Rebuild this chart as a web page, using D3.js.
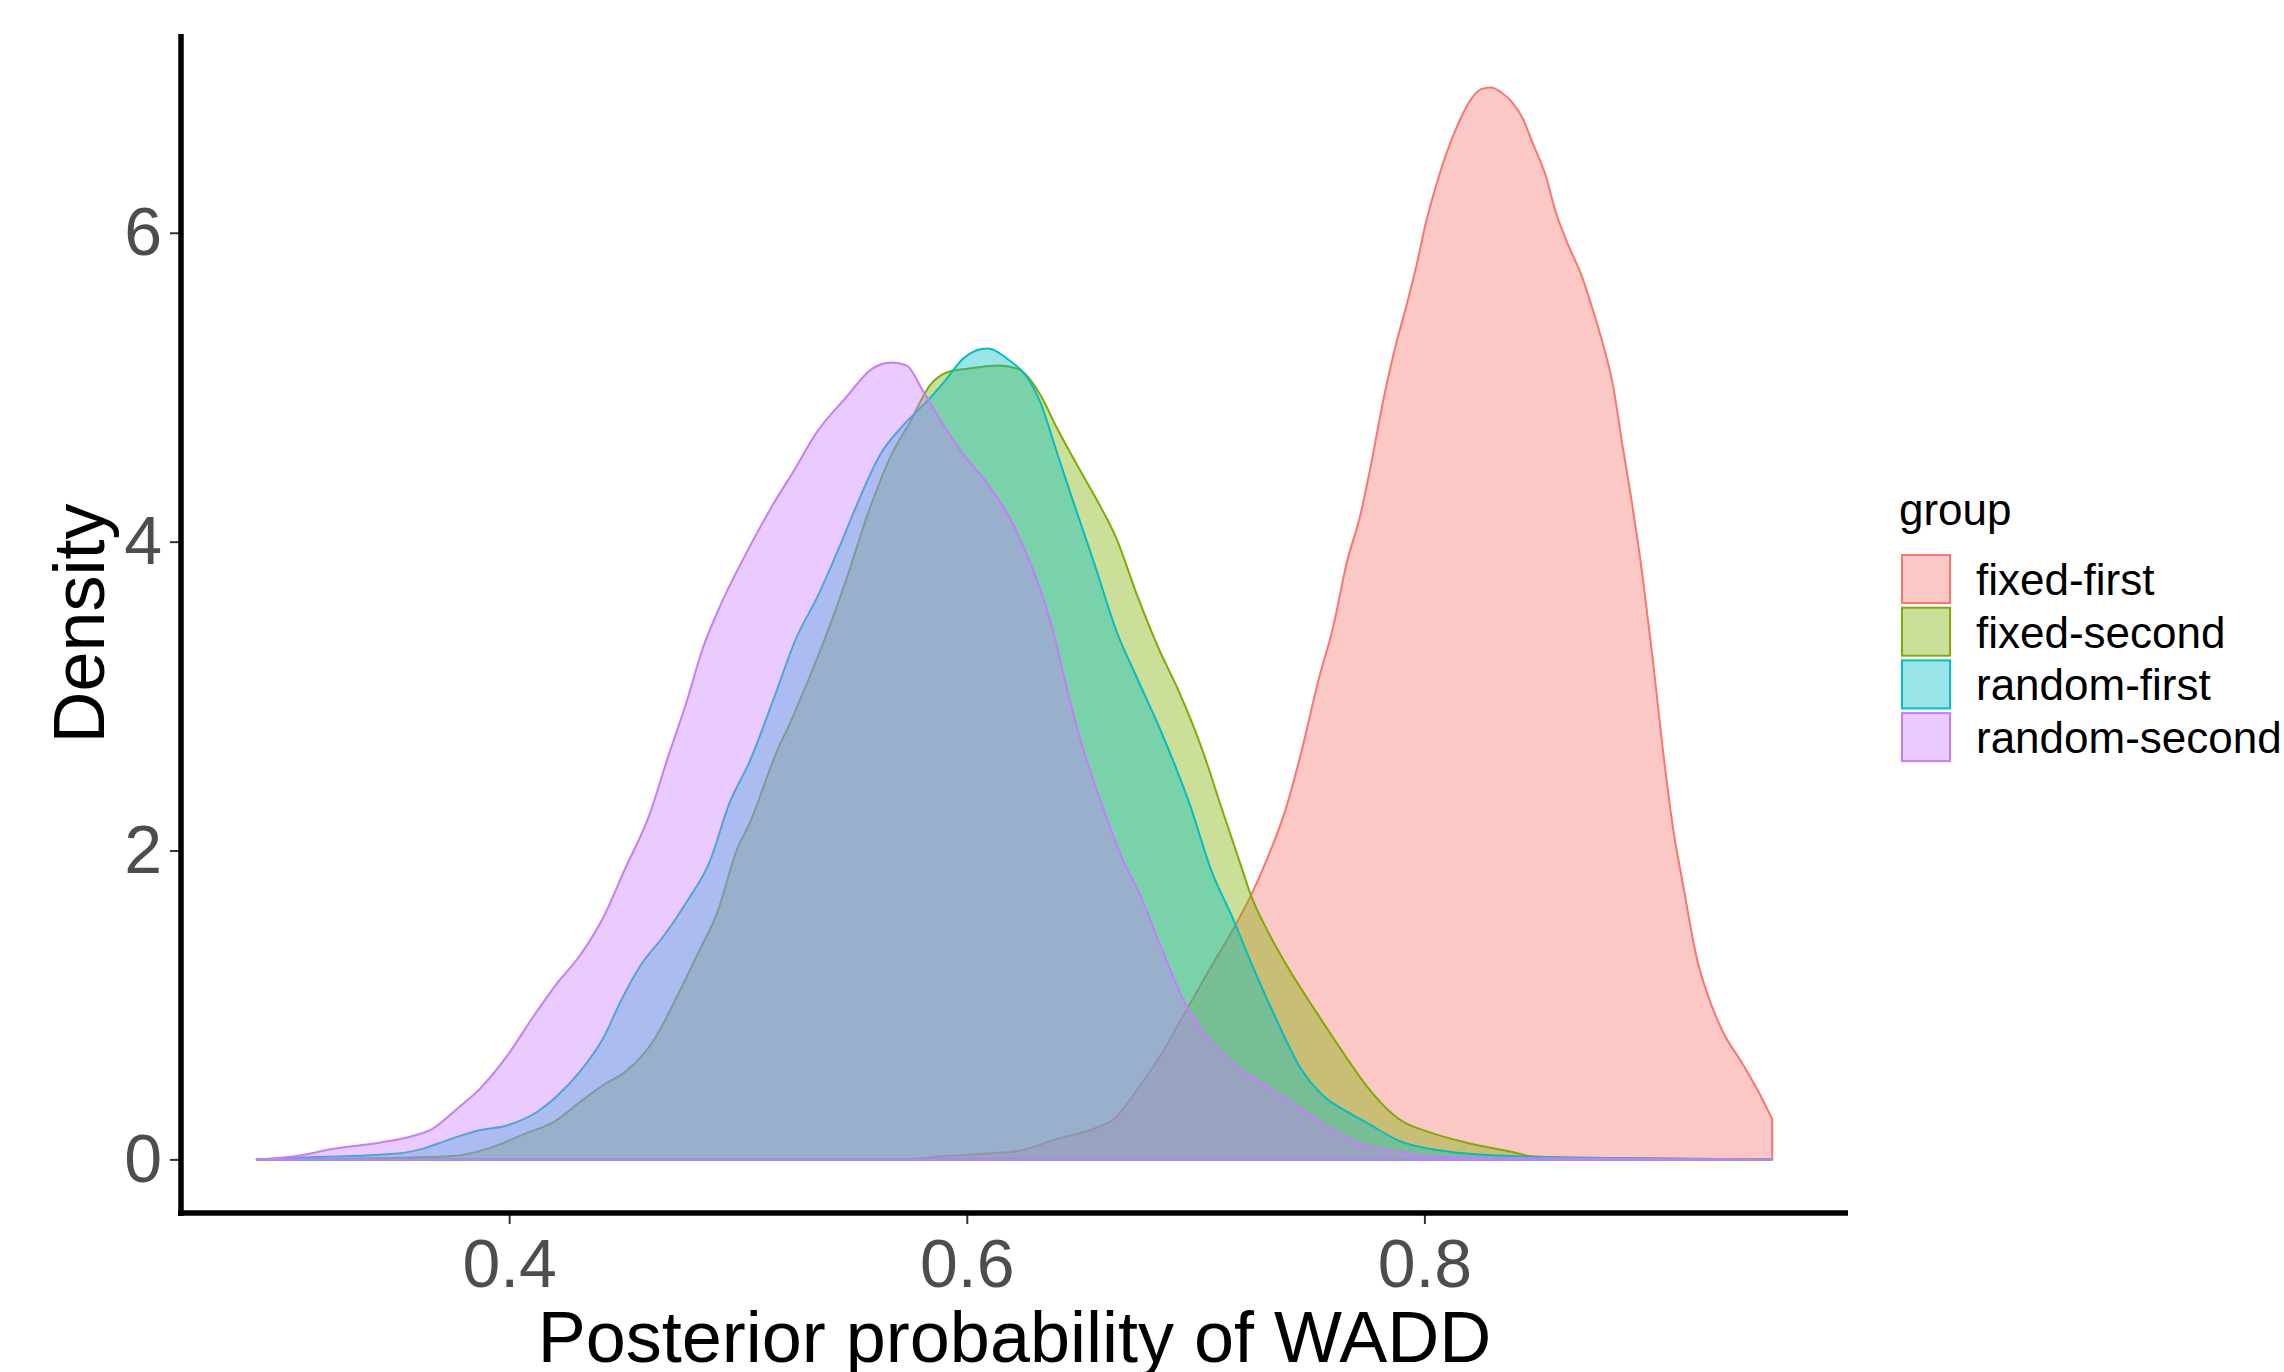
<!DOCTYPE html>
<html>
<head>
<meta charset="utf-8">
<script src="https://cdn.jsdelivr.net/npm/d3@7"></script>
<style>
  html, body { margin: 0; padding: 0; background: #ffffff; }
  svg { display: block; }
  text { font-family: "Liberation Sans", Arial, sans-serif; }
</style>
</head>
<body>
<svg id="chart" width="2284" height="1372"></svg>
<script>
// ---- Data ----
const groups = ["fixed-first", "fixed-second", "random-first", "random-second"];
const colors = ["#F8766D", "#7CAE00", "#00BFC4", "#C77CFF"];

const fixedFirstX = [0.2897, 0.572, 0.589, 0.611, 0.6223, 0.639, 0.6557, 0.6641, 0.6758, 0.6858, 0.6957, 0.7057, 0.7175, 0.7242, 0.7308, 0.7392, 0.7459, 0.754, 0.760, 0.766, 0.7723, 0.776, 0.7825, 0.7876, 0.792, 0.7964, 0.8007, 0.805, 0.8095, 0.8146, 0.8197, 0.8248, 0.829, 0.8335, 0.8386, 0.843, 0.8473, 0.853, 0.8575, 0.862, 0.869, 0.8736, 0.878, 0.8823, 0.8866, 0.891, 0.8954, 0.8997, 0.904, 0.9085, 0.913, 0.9194, 0.9237, 0.9303, 0.939, 0.9463, 0.952];
const fixedFirstY = [0, 0, 0.02, 0.04, 0.055, 0.13, 0.20, 0.26, 0.48, 0.70, 0.96, 1.22, 1.52, 1.71, 1.93, 2.26, 2.62, 3.12, 3.44, 3.86, 4.19, 4.45, 4.95, 5.28, 5.52, 5.78, 6.07, 6.30, 6.51, 6.70, 6.85, 6.93, 6.94, 6.91, 6.84, 6.74, 6.58, 6.37, 6.13, 5.95, 5.71, 5.50, 5.28, 5.02, 4.62, 4.22, 3.77, 3.25, 2.68, 2.16, 1.78, 1.28, 1.07, 0.83, 0.62, 0.43, 0.26];

const fixedSecondX = [0.2897, 0.322, 0.374, 0.3908, 0.4075, 0.4192, 0.4326, 0.441, 0.451, 0.4627, 0.4742, 0.4827, 0.491, 0.4994, 0.5052, 0.5178, 0.522, 0.5278, 0.5353, 0.547, 0.557, 0.567, 0.5754, 0.5838, 0.5921, 0.6005, 0.6139, 0.6223, 0.6322, 0.6389, 0.6473, 0.6557, 0.6657, 0.674, 0.6841, 0.6924, 0.7025, 0.7108, 0.7192, 0.7242, 0.7325, 0.7425, 0.7525, 0.7673, 0.7745, 0.789, 0.8035, 0.818, 0.838, 0.847, 0.87, 0.91, 0.952];
const fixedSecondY = [0, 0.003, 0.02, 0.07, 0.17, 0.24, 0.39, 0.48, 0.57, 0.76, 1.08, 1.34, 1.60, 2.00, 2.18, 2.67, 2.80, 3.00, 3.27, 3.74, 4.19, 4.56, 4.78, 5.01, 5.10, 5.12, 5.14, 5.12, 4.95, 4.75, 4.52, 4.30, 4.01, 3.67, 3.30, 3.04, 2.67, 2.30, 1.93, 1.71, 1.45, 1.19, 0.96, 0.63, 0.48, 0.26, 0.17, 0.11, 0.05, 0.02, 0.01, 0.005, 0];

const randomFirstX = [0.2897, 0.307, 0.3524, 0.3624, 0.374, 0.3874, 0.399, 0.4125, 0.4209, 0.431, 0.4409, 0.4493, 0.4576, 0.4677, 0.4777, 0.4877, 0.4961, 0.5052, 0.5153, 0.5253, 0.5353, 0.5453, 0.5537, 0.562, 0.572, 0.582, 0.5904, 0.5988, 0.6088, 0.6189, 0.6256, 0.6322, 0.6389, 0.6456, 0.6557, 0.6657, 0.674, 0.6858, 0.6974, 0.7074, 0.7157, 0.7258, 0.7358, 0.7459, 0.7559, 0.7673, 0.7745, 0.789, 0.811, 0.84, 0.869, 0.952];
const randomFirstY = [0, 0.01, 0.04, 0.07, 0.13, 0.19, 0.22, 0.31, 0.41, 0.57, 0.78, 1.04, 1.26, 1.45, 1.67, 1.93, 2.30, 2.58, 2.97, 3.37, 3.66, 4.00, 4.30, 4.56, 4.75, 4.90, 5.04, 5.19, 5.25, 5.17, 5.08, 4.90, 4.60, 4.30, 3.86, 3.41, 3.13, 2.74, 2.30, 1.85, 1.58, 1.22, 0.89, 0.59, 0.41, 0.30, 0.24, 0.12, 0.05, 0.02, 0.01, 0];

const randomSecondX = [0.2897, 0.3064, 0.3239, 0.344, 0.3574, 0.3666, 0.3774, 0.3874, 0.3991, 0.4108, 0.4209, 0.4309, 0.4409, 0.4509, 0.461, 0.4693, 0.4777, 0.4844, 0.4927, 0.5027, 0.5153, 0.5253, 0.5336, 0.547, 0.5587, 0.567, 0.5738, 0.5803, 0.5888, 0.5988, 0.6088, 0.6189, 0.6289, 0.6372, 0.6439, 0.6506, 0.659, 0.6673, 0.6758, 0.6858, 0.6958, 0.7058, 0.7192, 0.7325, 0.7459, 0.7593, 0.7745, 0.789, 0.8035, 0.818, 0.952];
const randomSecondY = [0, 0.02, 0.07, 0.11, 0.15, 0.20, 0.33, 0.46, 0.67, 0.93, 1.14, 1.32, 1.56, 1.89, 2.22, 2.60, 2.97, 3.30, 3.60, 3.90, 4.24, 4.48, 4.69, 4.93, 5.12, 5.16, 5.14, 4.99, 4.78, 4.56, 4.38, 4.15, 3.82, 3.45, 3.04, 2.67, 2.30, 1.97, 1.71, 1.34, 1.00, 0.78, 0.59, 0.46, 0.33, 0.20, 0.09, 0.05, 0.02, 0.01, 0];

const xTicks = [0.4, 0.6, 0.8];
const yTicks = [0, 2, 4, 6];
const xTitle = "Posterior probability of WADD";
const yTitle = "Density";
const legendTitle = "group";

// ---- Build series ----
const seriesX = [fixedFirstX, fixedSecondX, randomFirstX, randomSecondX];
const seriesY = [fixedFirstY, fixedSecondY, randomFirstY, randomSecondY];
const series = groups.map((g, i) => ({
  name: g, color: colors[i],
  points: seriesX[i].map((x, j) => ({ x, y: seriesY[i][j] }))
}));

// ---- Layout ----
const svg = d3.select("#chart");
const panel = { left: 181, right: 1848, top: 34, bottom: 1213 };

const allX = seriesX.flat(), allY = seriesY.flat();
const xMin = d3.min(allX), xMax = d3.max(allX);
const yMin = 0, yMax = d3.max(allY);
const xPad = (xMax - xMin) * 0.05, yPad = (yMax - yMin) * 0.05;

const x = d3.scaleLinear().domain([xMin - xPad, xMax + xPad]).range([panel.left, panel.right]);
const y = d3.scaleLinear().domain([yMin - yPad, yMax + yPad]).range([panel.bottom, panel.top]);

// ---- Density areas ----
const area = d3.area()
  .x(d => x(d.x))
  .y0(y(0))
  .y1(d => y(d.y))
  .curve(d3.curveMonotoneX);

const gAreas = svg.append("g");
series.forEach(s => {
  gAreas.append("path")
    .datum(s.points)
    .attr("d", area)
    .attr("fill", s.color)
    .attr("fill-opacity", 0.4)
    .attr("stroke", s.color)
    .attr("stroke-width", 2)
    .attr("stroke-linejoin", "round");
});

// ---- Axes ----
const tickColor = "#333333";
const labelColor = "#4D4D4D";

const yAxis = svg.append("g")
  .attr("transform", `translate(${panel.left},0)`)
  .call(d3.axisLeft(y).tickValues(yTicks).tickFormat(d3.format("d")).tickSize(11).tickPadding(8));
yAxis.select(".domain").remove();
yAxis.selectAll(".tick line").attr("stroke", tickColor).attr("stroke-width", 2);
yAxis.selectAll(".tick text")
  .attr("fill", labelColor)
  .style("font-size", "68px")
  .style("font-family", '"Liberation Sans", Arial, sans-serif');

const xAxis = svg.append("g")
  .attr("transform", `translate(0,${panel.bottom})`)
  .call(d3.axisBottom(x).tickValues(xTicks).tickFormat(d3.format(".1f")).tickSize(11).tickPadding(15));
xAxis.select(".domain").remove();
xAxis.selectAll(".tick line").attr("stroke", tickColor).attr("stroke-width", 2);
xAxis.selectAll(".tick text")
  .attr("fill", labelColor)
  .style("font-size", "68px")
  .style("font-family", '"Liberation Sans", Arial, sans-serif');

// axis lines
svg.append("line")
  .attr("x1", panel.left).attr("x2", panel.left)
  .attr("y1", panel.top).attr("y2", panel.bottom + 3)
  .attr("stroke", "#000").attr("stroke-width", 5.5);
svg.append("line")
  .attr("x1", panel.left - 3).attr("x2", panel.right)
  .attr("y1", panel.bottom).attr("y2", panel.bottom)
  .attr("stroke", "#000").attr("stroke-width", 5.5);

// ---- Titles ----
svg.append("text")
  .attr("x", (panel.left + panel.right) / 2)
  .attr("y", 1362)
  .attr("text-anchor", "middle")
  .attr("fill", "#000")
  .style("font-size", "72px")
  .text(xTitle);

svg.append("text")
  .attr("transform", `translate(104,${(panel.top + panel.bottom) / 2}) rotate(-90)`)
  .attr("text-anchor", "middle")
  .attr("fill", "#000")
  .style("font-size", "72px")
  .text(yTitle);

// ---- Legend ----
const legend = svg.append("g").attr("transform", "translate(1899,0)");
legend.append("text")
  .attr("x", 0).attr("y", 525)
  .attr("fill", "#000")
  .style("font-size", "44px")
  .text(legendTitle);

const keySize = 48, keyStep = 52.7, keyTop = 555;
series.forEach((s, i) => {
  const ky = keyTop + i * keyStep;
  legend.append("rect")
    .attr("x", 3).attr("y", ky)
    .attr("width", keySize).attr("height", keySize)
    .attr("fill", s.color).attr("fill-opacity", 0.4)
    .attr("stroke", s.color).attr("stroke-width", 2);
  legend.append("text")
    .attr("x", 77).attr("y", ky + keySize / 2 + 16)
    .attr("fill", "#000")
    .style("font-size", "44px")
    .text(s.name);
});
</script>
</body>
</html>
